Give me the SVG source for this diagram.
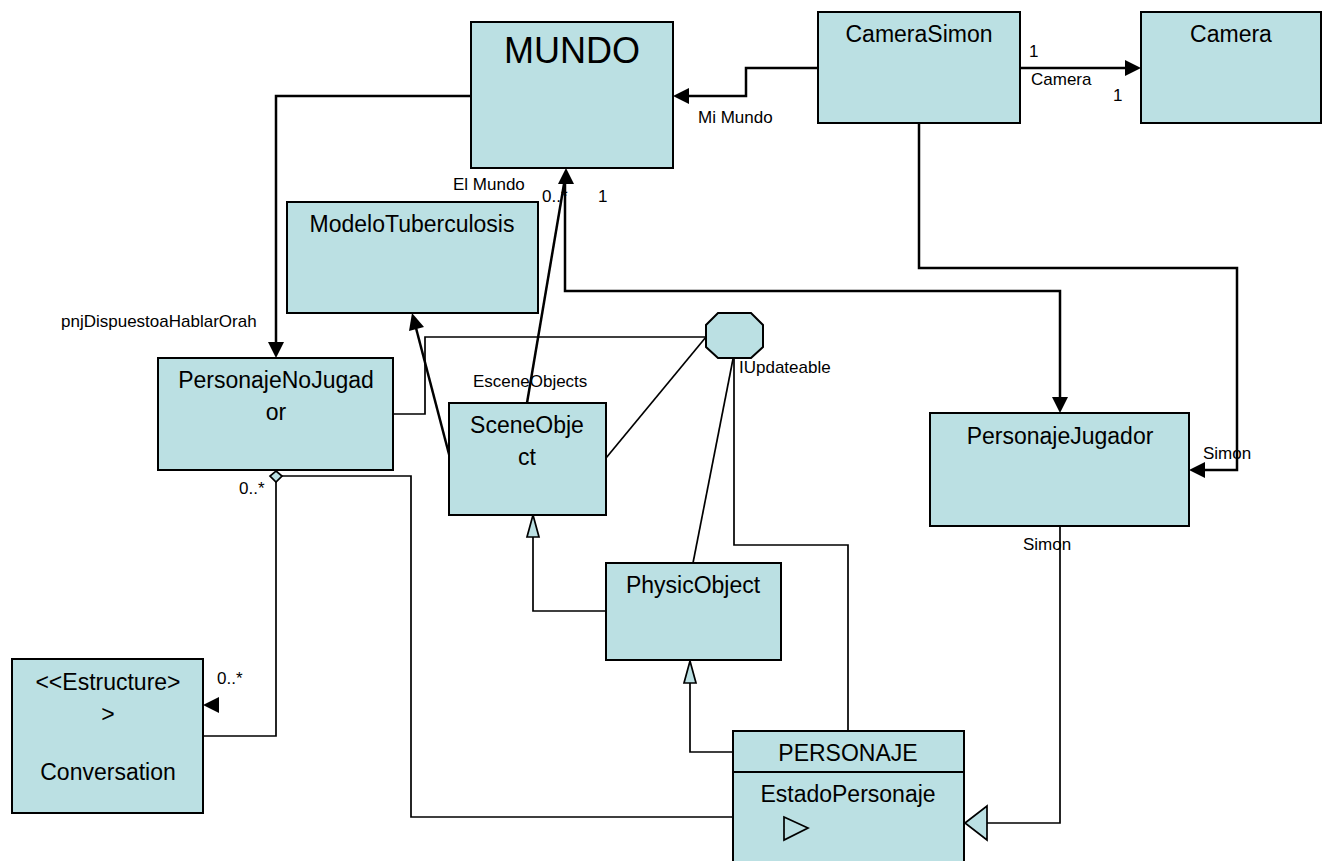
<svg xmlns="http://www.w3.org/2000/svg" width="1325" height="861" viewBox="0 0 1325 861">
<style>
.box{fill:#BBE0E3;stroke:#000;stroke-width:2}
.t{font-family:"Liberation Sans",Arial,sans-serif;font-size:23px;fill:#000;text-anchor:middle}
.lb{font-family:"Liberation Sans",Arial,sans-serif;font-size:17px;fill:#000}
.thick{fill:none;stroke:#000;stroke-width:2.5}
.thin{fill:none;stroke:#000;stroke-width:1.7}
.ah{fill:#000;stroke:none}
.hollow{fill:#BBE0E3;stroke:#000;stroke-width:1.7}
</style>
<rect width="1325" height="861" fill="#fff"/>
<g id="connectors">
  <!-- CameraSimon -> MUNDO -->
  <polyline class="thick" points="818,68 746,68 746,96 688,96"/>
  <polygon class="ah" points="673,96 689,88 689,104"/>
  <!-- CameraSimon -> Camera -->
  <line class="thick" x1="1020" y1="68" x2="1126" y2="68"/>
  <polygon class="ah" points="1141,68 1125,60 1125,76"/>
  <!-- MUNDO -> PersonajeNoJugador -->
  <polyline class="thick" points="471,96 276,96 276,342"/>
  <polygon class="ah" points="276,358 268,342 284,342"/>
  <!-- SceneObject -> MUNDO -->
  <line class="thick" x1="527" y1="403" x2="564" y2="184"/>
  <polygon class="ah" points="566,168 558,184 574,184"/>
  <!-- MUNDO -> PersonajeJugador -->
  <polyline class="thick" points="565,180 565,291 1060,291 1060,397"/>
  <polygon class="ah" points="1060,413 1052,397 1068,397"/>
  <!-- CameraSimon -> PersonajeJugador -->
  <polyline class="thick" points="919,123 919,268 1237,268 1237,470 1204,470"/>
  <polygon class="ah" points="1189,470 1205,462 1205,478"/>
  <!-- SceneObject -> ModeloTuberculosis -->
  <line class="thick" x1="450" y1="458" x2="416" y2="328"/>
  <polygon class="ah" points="412,313 409,331 424,327"/>
  <!-- IUpdateable realizations -->
  <polyline class="thin" points="706,337 425,337 425,414 393,414"/>
  <line class="thin" x1="706" y1="337" x2="606" y2="458"/>
  <line class="thin" x1="733" y1="359" x2="693" y2="563"/>
  <polyline class="thin" points="734,358 734,545 848,545 848,731"/>
  <!-- PhysicObject -> SceneObject generalization -->
  <polyline class="thin" points="606,611 533,611 533,537"/>
  <polygon class="hollow" points="533,515 527,537 539,537"/>
  <!-- PERSONAJE -> PhysicObject generalization -->
  <polyline class="thin" points="733,752 690,752 690,683"/>
  <polygon class="hollow" points="690,661 684,683 696,683"/>
  <!-- PersonajeJugador -> PERSONAJE -->
  <polyline class="thin" points="1060,526 1060,823 987,823"/>
  <polygon class="hollow" points="965,823 987,806 987,840"/>
  <!-- PERSONAJE aggregation to PersonajeNoJugador -->
  <polyline class="thin" points="733,817 411,817 411,476 282,476"/>
  <polygon class="hollow" points="276,471 282,476 276,482 270,476"/>
  <!-- PersonajeNoJugador -> Conversation -->
  <polyline class="thin" points="276,482 276,736 203,736"/>
  <polygon class="ah" points="203,705 219,697 219,713"/>
</g>
<g id="labels">
  <text class="lb" x="698" y="123">Mi Mundo</text>
  <text class="lb" x="1029" y="57">1</text>
  <text class="lb" x="1031" y="85">Camera</text>
  <text class="lb" x="1113" y="101">1</text>
  <text class="lb" x="453" y="190">El Mundo</text>
  <text class="lb" x="542" y="202">0..*</text>
  <text class="lb" x="598" y="202">1</text>
  <text class="lb" x="61" y="327">pnjDispuestoaHablarOrah</text>
  <text class="lb" x="473" y="387">EsceneObjects</text>
  <text class="lb" x="739" y="373">IUpdateable</text>
  <text class="lb" x="1203" y="459">Simon</text>
  <text class="lb" x="1023" y="550">Simon</text>
  <text class="lb" x="239" y="494">0..*</text>
  <text class="lb" x="217" y="684">0..*</text>
</g>
<g id="MUNDO">
  <rect class="box" x="471" y="22" width="202" height="146"/>
  <text class="t" x="572" y="63" style="font-size:36px">MUNDO</text>
</g>
<g id="CameraSimon">
  <rect class="box" x="818" y="12" width="202" height="111"/>
  <text class="t" x="919" y="42">CameraSimon</text>
</g>
<g id="Camera">
  <rect class="box" x="1141" y="12" width="180" height="111"/>
  <text class="t" x="1231" y="42">Camera</text>
</g>
<g id="ModeloTuberculosis">
  <rect class="box" x="287" y="202" width="251" height="111"/>
  <text class="t" x="412" y="232">ModeloTuberculosis</text>
</g>
<g id="PersonajeNoJugador">
  <rect class="box" x="158" y="358" width="235" height="112"/>
  <text class="t" x="276" y="388">PersonajeNoJugad</text>
  <text class="t" x="276" y="420">or</text>
</g>
<g id="SceneObject">
  <rect class="box" x="449" y="403" width="157" height="112"/>
  <text class="t" x="527" y="433">SceneObje</text>
  <text class="t" x="527" y="465">ct</text>
</g>
<g id="IUpdateable">
  <polygon class="box" points="718,313 751,313 763,325 763,347 751,358 718,358 706,347 706,325"/>
</g>
<g id="PersonajeJugador">
  <rect class="box" x="930" y="413" width="259" height="113"/>
  <text class="t" x="1060" y="444">PersonajeJugador</text>
</g>
<g id="PhysicObject">
  <rect class="box" x="606" y="563" width="175" height="97"/>
  <text class="t" x="693" y="593">PhysicObject</text>
</g>
<g id="Conversation">
  <rect class="box" x="12" y="659" width="191" height="154"/>
  <text class="t" x="108" y="690">&lt;&lt;Estructure&gt;</text>
  <text class="t" x="108" y="722">&gt;</text>
  <text class="t" x="108" y="780">Conversation</text>
</g>
<g id="PERSONAJE">
  <rect class="box" x="733" y="731" width="231" height="140"/>
  <line x1="733" y1="772" x2="964" y2="772" stroke="#000" stroke-width="2"/>
  <text class="t" x="848" y="761">PERSONAJE</text>
  <text class="t" x="848" y="802">EstadoPersonaje</text>
  <polygon points="784,817 808,828 784,840" fill="none" stroke="#000" stroke-width="1.7"/>
</g>
</svg>
